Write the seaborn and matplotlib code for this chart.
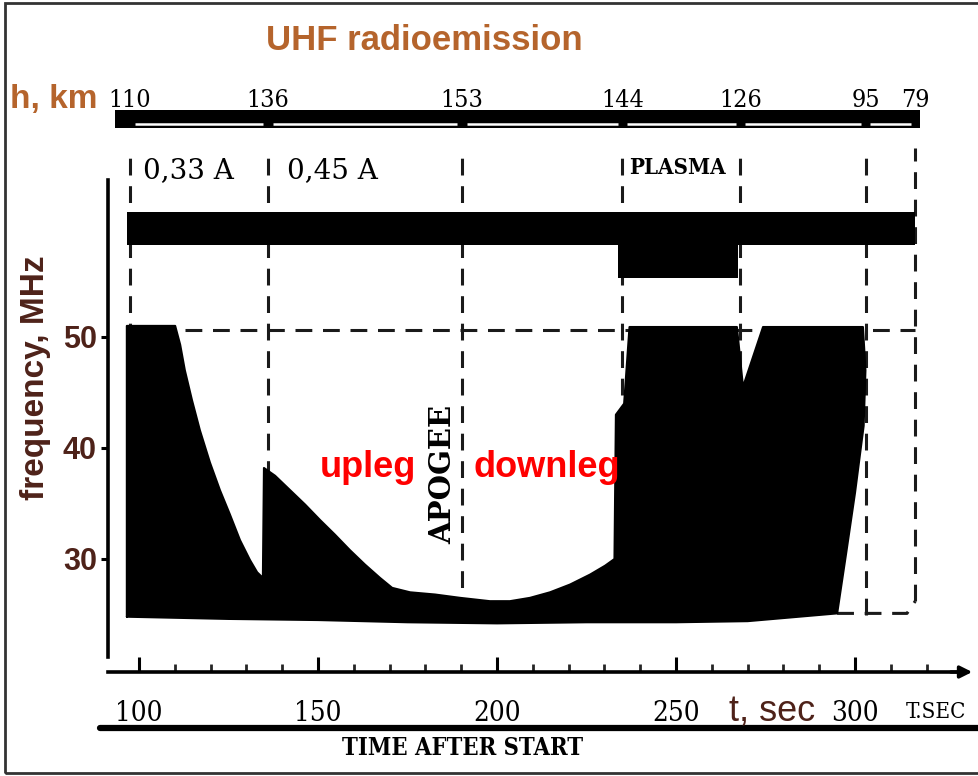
import matplotlib
matplotlib.use("Agg")
import matplotlib.pyplot as plt
from matplotlib import font_manager as fm
from matplotlib.lines import Line2D
from matplotlib.patches import Rectangle
import seaborn as sns

# ---- data -------------------------------------------------------------
# UHF emission envelope: upper edge (time after start, s ; frequency, MHz)
upper_t = [96.6, 96.6, 110.1, 111.5, 112.8, 114.8, 117.0, 119.8, 122.6, 125.4,
           128.2, 131.0, 133.0, 134.6,
           134.9, 138.0, 142.2, 146.4, 150.6, 154.7, 158.9, 163.1, 167.3, 170.7,
           175.7, 182.7, 189.7, 198.0,
           203.6, 209.2, 214.8, 220.4, 226.0, 230.2, 232.8,
           233.2, 235.5, 237.0,
           267.0, 268.7, 274.3,
           302.2, 302.9, 302.4, 300.0, 297.5, 295.0]
upper_f = [24.8, 51.0, 51.0, 49.3, 47.0, 44.3, 41.6, 38.7, 36.2, 34.0,
           31.7, 29.9, 28.8, 28.3,
           38.2, 37.5, 36.2, 34.9, 33.5, 32.2, 30.8, 29.5, 28.3, 27.4,
           27.0, 26.8, 26.5, 26.2,
           26.2, 26.5, 27.0, 27.7, 28.6, 29.4, 30.0,
           43.0, 44.0, 50.9,
           50.9, 45.5, 50.9,
           50.9, 47.0, 42.0, 36.0, 30.5, 25.1]
# lower edge, traced back from right to left
lower_t = [270.0, 250.0, 225.0, 200.0, 175.0, 150.0, 125.0, 96.6]
lower_f = [24.4, 24.3, 24.3, 24.2, 24.3, 24.5, 24.6, 24.8]

# flight events: time after start and rocket altitude
event_t = [97.5, 136.0, 190.2, 235.0, 268.0, 303.0, 316.8]
alt_km = [110, 136, 153, 144, 126, 95, 79]

# interval captions
interval_t = [113.7, 153.9, 250.3]
interval_txt = ["0,33 A", "0,45 A", "PLASMA"]

# continuous high band and the extra plasma band
band_t = [96.6, 316.8]
band_f = [58.3, 61.3]
plasma_t = [233.8, 267.3]
plasma_f = [55.3, 58.3]
receiver_limit = 50.6

x_ticks = [100, 150, 200, 250, 300]
y_ticks = [30, 40, 50]

# ---- fonts ------------------------------------------------------------
sns.set_theme(style="ticks")
names = {f.name for f in fm.fontManager.ttflist}


def pick(*cands):
    for c in cands:
        if c in names:
            return c
    return "DejaVu Sans"


NARROW = pick("Liberation Sans Narrow", "Liberation Sans", "DejaVu Sans")
ARIAL = pick("Liberation Sans", "DejaVu Sans")
plt.rcParams["font.family"] = [ARIAL, "DejaVu Sans"]


def typewriter(size, weight="normal", condensed=True):
    return fm.FontProperties(family="DejaVu Serif", size=size, weight=weight,
                             stretch="condensed" if condensed else "normal")


BROWN = "#b5642c"
DARK = "#4e2219"

W, H = 979, 776
fig = plt.figure(figsize=(W / 100, H / 100), dpi=100)
ax = fig.add_axes([108 / W, 104 / H, 867 / W, 572 / H])
ax.set_xlim(91.34, 333.5)
ax.set_ylim(19.82, 71.35)

DASH = (0, (5.5, 3.5))

# dashed event markers
for t in event_t:
    bottom = 26.2 if t == event_t[-1] else 25.0
    ax.plot([t, t], [bottom, 67.0], color="k", lw=2.2, ls=DASH, zorder=1)
# upper receiver limit and closing dashes at the end of the flight
ax.plot([event_t[0], event_t[-1]], [receiver_limit, receiver_limit],
        color="k", lw=2.2, ls=DASH, zorder=1)
ax.plot([upper_t[-1], 314.5, event_t[-1]], [upper_f[-1], upper_f[-1], 26.2],
        color="k", lw=2.2, ls=DASH, zorder=1)

# emission envelope
poly_t = upper_t + lower_t
poly_f = upper_f + lower_f
ax.fill(poly_t, poly_f, color="black", lw=0, zorder=2)
sns.lineplot(x=poly_t, y=poly_f, sort=False, estimator=None, color="black",
             lw=1.5, ax=ax, zorder=2)

# high-frequency bands
ax.fill_between(band_t, band_f[0], band_f[1], color="black", lw=0, zorder=2)
ax.fill_between(plasma_t, plasma_f[0], plasma_f[1], color="black", lw=0, zorder=2)

# altitude scale bar
ax.fill_between([93.3, 318.2], 68.85, 70.45, color="black", lw=0, zorder=3, clip_on=False)
for a, b in zip(event_t[:-1], event_t[1:]):
    ax.plot([a + 1.3, b - 1.3], [69.22, 69.22], color="white", lw=1.8, zorder=4,
            solid_capstyle="butt")
for t, h in zip(event_t, alt_km):
    ax.text(t, 70.75, str(h), ha="center", va="baseline",
            fontproperties=typewriter(18), color="black", clip_on=False)

# interval captions
for t, s in zip(interval_t, interval_txt):
    if s == "PLASMA":
        ax.text(t, 65.2, s, ha="center", va="center",
                fontproperties=typewriter(16, "bold"), color="black")
    else:
        ax.text(t, 65.0, s, ha="center", va="center",
                fontproperties=typewriter(20, condensed=False), color="black")

ax.text(184.9, 37.6, "APOGEE", rotation=90, ha="center", va="center",
        fontproperties=typewriter(21, "bold", condensed=False), color="black")
ax.text(164.0, 38.2, "upleg", ha="center", va="center", color="#ff0000",
        fontsize=26, fontweight="bold", family=ARIAL)
ax.text(214.0, 38.2, "downleg", ha="center", va="center", color="#ff0000",
        fontsize=26, fontweight="bold", family=ARIAL)

# axes styling
for side in ("top", "right"):
    ax.spines[side].set_visible(False)
ax.spines["left"].set_bounds(21.17, 64.14)
ax.spines["left"].set_linewidth(2.6)
ax.spines["bottom"].set_bounds(91.34, 330.0)
ax.spines["bottom"].set_linewidth(2.6)
ax.spines["left"].set_color("black")
ax.spines["bottom"].set_color("black")
ax.annotate("", xy=(333.5, 19.82), xytext=(326.0, 19.82),
            arrowprops=dict(arrowstyle="-|>", color="black", lw=2.4,
                            mutation_scale=18),
            annotation_clip=False)

ax.set_xticks(x_ticks)
ax.set_xticks(list(range(100, 330, 10)), minor=True)
ax.tick_params(axis="x", which="major", direction="in", length=11, width=2.2,
               pad=20, colors="black")
ax.tick_params(axis="x", which="minor", direction="in", length=6, width=2.0)
for lab in ax.get_xticklabels():
    lab.set_fontproperties(typewriter(20))

ax.set_yticks(y_ticks)
ax.tick_params(axis="y", which="major", direction="out", length=5, width=2.2,
               pad=3, labelcolor=DARK, colors="black")
for lab in ax.get_yticklabels():
    lab.set_fontproperties(fm.FontProperties(family=ARIAL, size=22, weight="bold"))
    lab.set_color(DARK)

ax.set_xlabel("")
ax.set_ylabel("")

# titles and axis captions
fig.text(424 / W, 1 - 40 / H, "UHF radioemission", ha="center", va="center",
         color=BROWN, fontsize=25, fontweight="bold", family=[NARROW, "DejaVu Sans"])
fig.text(10 / W, 1 - 108 / H, "h, km", ha="left", va="baseline",
         color=BROWN, fontsize=24, fontweight="bold", family=[NARROW, "DejaVu Sans"])
fig.text(36 / W, 1 - 378 / H, "frequency, MHz", rotation=90, ha="center",
         va="center", color=DARK, fontsize=24, fontweight="bold", family=ARIAL)
fig.text(772 / W, 1 - 712 / H, "t, sec", ha="center", va="center", color=DARK,
         fontsize=26, family=[NARROW, "DejaVu Sans"])
fig.text(906 / W, 1 - 712 / H, "T.SEC", ha="left", va="center",
         fontproperties=typewriter(16), color="black")
fig.text(463 / W, 1 - 748 / H, "TIME AFTER START", ha="center", va="center",
         fontproperties=typewriter(17, "bold"), color="black")

# rule under the time labels and the outer frame
fig.add_artist(Line2D([100 / W, 1.0], [1 - 728 / H, 1 - 728 / H],
                      color="black", lw=4.5, transform=fig.transFigure))
fig.add_artist(Rectangle((5 / W, 1 - 773 / H), 1.2, (770) / H, fill=False,
                         edgecolor="#333333", lw=2, transform=fig.transFigure))

fig.savefig("out.png", dpi=100)
